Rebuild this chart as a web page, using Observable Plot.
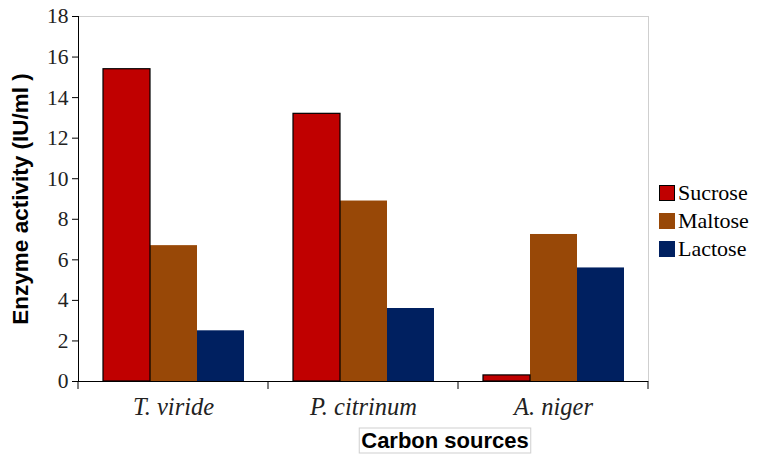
<!DOCTYPE html>
<html>
<head>
<meta charset="utf-8">
<script src="https://cdn.jsdelivr.net/npm/d3@7"></script>
<script src="https://cdn.jsdelivr.net/npm/@observablehq/plot@0.6"></script>
<style>
  html, body { margin: 0; padding: 0; background: #fff; }
  #wrap { position: relative; width: 758px; height: 456px; }
  #wrap svg text { font-family: "Liberation Serif", "Times New Roman", serif !important; }
  #wrap svg text.sans { font-family: "Liberation Sans", Arial, sans-serif !important; font-weight: bold !important; font-style: normal !important; }
  #wrap svg text.ital { font-style: italic !important; }
  #legend { position: absolute; left: 659px; top: 179px; font-family: "Liberation Serif", "Times New Roman", serif; font-size: 22px; color: #000; }
  #legend .item { display: flex; align-items: center; height: 28px; }
  #legend .sw { width: 16px; height: 16px; margin-right: 3px; box-sizing: border-box; }
</style>
</head>
<body>
<div id="wrap"></div>
<script>
const categories = ["T. viride", "P. citrinum", "A. niger"];
const series = ["Sucrose", "Maltose", "Lactose"];
const sucrose = [15.4, 13.2, 0.3];
const maltose = [6.7, 8.9, 7.25];
const lactose = [2.5, 3.6, 5.6];
const colors = ["#C00000", "#984807", "#002060"];
const yTicks = [0, 2, 4, 6, 8, 10, 12, 14, 16, 18];
const yTitle = "Enzyme activity (IU/ml )";
const xTitle = "Carbon sources";

const valuesBySeries = [sucrose, maltose, lactose];
const data = [];
categories.forEach((c, i) => {
  series.forEach((s, j) => data.push({cat: c, series: s, value: valuesBySeries[j][i]}));
});

const W = 758, H = 456;
const chart = Plot.plot({
  width: W,
  height: H,
  marginLeft: 77,
  marginRight: 109,
  marginTop: 16,
  marginBottom: 75,
  style: {background: "#fff", overflow: "visible"},
  fx: {domain: categories, padding: 0},
  x: {domain: series, paddingInner: 0, paddingOuter: 0.5, axis: null},
  y: {domain: [0, 18], axis: null},
  color: {domain: series, range: colors},
  marks: [
    Plot.frame({anchor: "top", stroke: "#cfcfcf", strokeOpacity: 1}),
    Plot.frame({anchor: "right", stroke: "#cfcfcf", strokeOpacity: 1, facetAnchor: "right"}),
    Plot.barY(data, {fx: "cat", x: "series", y: "value", fill: "series", inset: 0}),
    Plot.barY(data, {fx: "cat", x: "series", y: "value", filter: d => d.series === "Sucrose", fill: "none", stroke: "#000", strokeWidth: 1.2, inset: 0}),
    Plot.ruleY([0], {stroke: "#000", strokeWidth: 1}),
    Plot.frame({anchor: "left", stroke: "#000", strokeOpacity: 1, facetAnchor: "left"}),
    Plot.axisY({ticks: yTicks, tickSize: 6, tickPadding: 4, label: null, fontSize: 21.5, fill: "#222", stroke: "#000"}),
    Plot.axisY({ticks: [], tickSize: 0, label: yTitle, labelAnchor: "center", labelArrow: "none", labelOffset: 66, fontSize: 22.5, fontWeight: "bold", fill: "#000"}),
    Plot.axisFx({anchor: "bottom", tickSize: 0, tickPadding: 16, label: null, fontSize: 24.5, fontStyle: "italic", fill: "#222"})
  ]
});

document.getElementById("wrap").appendChild(chart);
const svg = d3.select(chart);

// text roles for styling
svg.selectAll("text").filter(function () { return categories.includes(this.textContent); })
  .classed("ital", true);
svg.selectAll("text").filter(function () { return this.textContent === yTitle; })
  .classed("sans", true);

// boundary ticks between category groups, placed with Plot's fx scale
const fx = chart.scale("fx");
const y = chart.scale("y");
const y0 = y.apply(0);
const edges = categories.map(c => fx.apply(c));
edges.push(fx.apply(categories[categories.length - 1]) + fx.bandwidth);
svg.append("g").selectAll("line").data(edges).join("line")
  .attr("x1", d => d).attr("x2", d => d)
  .attr("y1", y0).attr("y2", y0 + 8)
  .attr("stroke", "#000").attr("stroke-width", 1);

// boxed x-axis title
const tg = svg.append("g");
const t = tg.append("text")
  .attr("class", "sans")
  .attr("x", 445).attr("y", 448)
  .attr("text-anchor", "middle")
  .style("font-size", "22px")
  .attr("fill", "#000")
  .text(xTitle);
const bb = t.node().getBBox();
tg.insert("rect", "text")
  .attr("x", bb.x - 2).attr("y", bb.y)
  .attr("width", bb.width + 4).attr("height", bb.height)
  .attr("fill", "#fff").attr("stroke", "#cfcfcf");

// legend
const legend = d3.select("#wrap").append("div").attr("id", "legend");
series.forEach((s, i) => {
  const it = legend.append("div").attr("class", "item");
  it.append("div").attr("class", "sw")
    .style("background", colors[i])
    .style("border", i === 0 ? "1.5px solid #000" : "none");
  it.append("span").text(s);
});
</script>
</body>
</html>
